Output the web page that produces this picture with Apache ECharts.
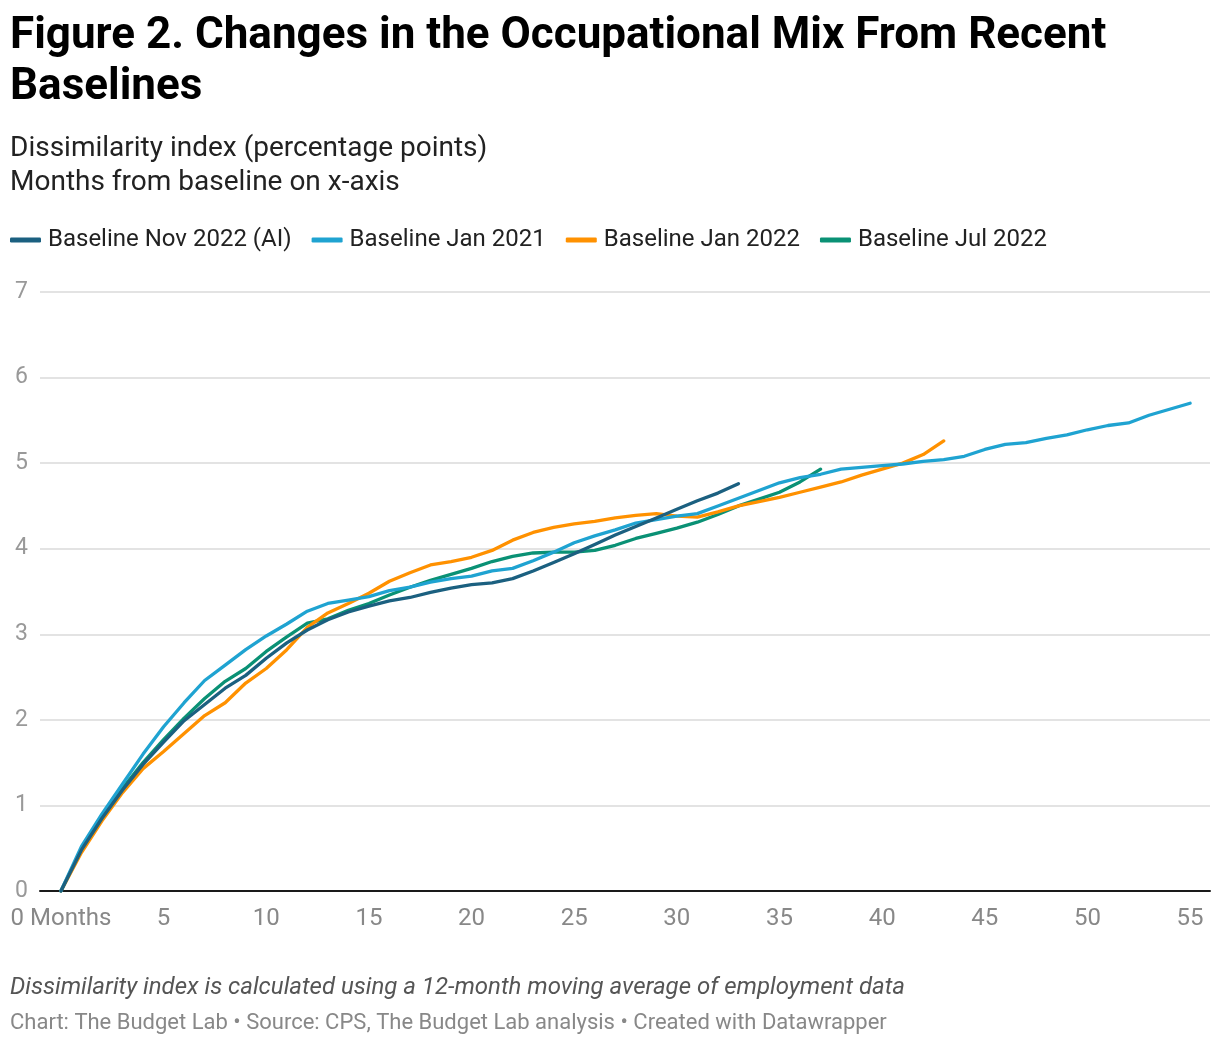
<!DOCTYPE html>
<html>
<head>
<meta charset="utf-8">
<script src="https://cdn.jsdelivr.net/npm/echarts@6/dist/echarts.min.js"></script>
<style>
html,body{margin:0;padding:0;background:#fff;}
#chart{width:1220px;height:1046px;}
</style>
</head>
<body>
<div id="chart"></div>
<script>
const titleText = 'Figure 2. Changes in the Occupational Mix From Recent Baselines';
const subtitleLines = ['Dissimilarity index (percentage points)', 'Months from baseline on x-axis'];
const noteText = 'Dissimilarity index is calculated using a 12-month moving average of employment data';
const sourceText = 'Chart: The Budget Lab \u2022 Source: CPS, The Budget Lab analysis \u2022 Created with Datawrapper';

const seriesNames = ['Baseline Nov 2022 (AI)', 'Baseline Jan 2021', 'Baseline Jan 2022', 'Baseline Jul 2022'];
const seriesColors = ['#1b6080', '#1fa3d1', '#ff9100', '#0a9175'];

const xTicks = [0, 5, 10, 15, 20, 25, 30, 35, 40, 45, 50, 55];
const yTicks = [0, 1, 2, 3, 4, 5, 6, 7];

// values by month from baseline (month 0, 1, 2, ...)
const nov2022 = [0, 0.48, 0.85, 1.18, 1.48, 1.74, 1.99, 2.18, 2.37, 2.52, 2.72, 2.9, 3.05, 3.17, 3.26, 3.33, 3.39, 3.43, 3.49, 3.54, 3.58, 3.6, 3.65, 3.74, 3.84, 3.94, 4.05, 4.16, 4.26, 4.36, 4.46, 4.56, 4.65, 4.76];
const jan2021 = [0, 0.52, 0.9, 1.25, 1.6, 1.92, 2.2, 2.46, 2.64, 2.82, 2.98, 3.12, 3.27, 3.36, 3.4, 3.44, 3.51, 3.55, 3.61, 3.65, 3.68, 3.74, 3.77, 3.86, 3.96, 4.07, 4.15, 4.22, 4.3, 4.34, 4.38, 4.41, 4.5, 4.59, 4.68, 4.77, 4.83, 4.87, 4.93, 4.95, 4.97, 4.99, 5.02, 5.04, 5.08, 5.16, 5.22, 5.24, 5.29, 5.33, 5.39, 5.44, 5.47, 5.56, 5.63, 5.7];
const jan2022 = [0, 0.45, 0.82, 1.15, 1.43, 1.63, 1.84, 2.05, 2.2, 2.43, 2.6, 2.82, 3.08, 3.25, 3.36, 3.48, 3.62, 3.72, 3.81, 3.85, 3.9, 3.98, 4.1, 4.19, 4.25, 4.29, 4.32, 4.36, 4.39, 4.41, 4.38, 4.37, 4.43, 4.5, 4.55, 4.6, 4.66, 4.72, 4.78, 4.86, 4.93, 5.0, 5.1, 5.26];
const jul2022 = [0, 0.48, 0.86, 1.2, 1.5, 1.77, 2.02, 2.25, 2.45, 2.6, 2.8, 2.97, 3.13, 3.18, 3.28, 3.36, 3.46, 3.55, 3.63, 3.7, 3.77, 3.85, 3.91, 3.95, 3.96, 3.96, 3.98, 4.04, 4.12, 4.18, 4.24, 4.31, 4.4, 4.5, 4.58, 4.66, 4.78, 4.93];

const allValues = [nov2022, jan2021, jan2022, jul2022];

const chart = echarts.init(document.getElementById('chart'), null, {renderer: 'canvas'});
const FONT = 'Roboto';

const series = allValues.map((vals, i) => ({
  name: seriesNames[i],
  type: 'line',
  data: vals.map((v, m) => [m, v]),
  showSymbol: false,
  symbol: 'none',
  lineStyle: {width: 3.3, color: seriesColors[i], cap: 'round', join: 'round'},
  itemStyle: {color: seriesColors[i]},
  z: 10 - i,
  emphasis: {disabled: true}
}));

chart.setOption({
  animation: false,
  backgroundColor: '#fff',
  title: [
    {
      text: titleText,
      left: 10, top: 11, padding: 0,
      textStyle: {fontFamily: FONT, fontWeight: 'bold', fontSize: 44, color: '#000', width: 1195, overflow: 'break', lineHeight: 51}
    },
    {
      text: subtitleLines.join('\n'),
      left: 10, top: 132, padding: 0,
      textStyle: {fontFamily: FONT, fontWeight: 'normal', fontSize: 28, color: '#222', lineHeight: 34}
    },
    {
      text: noteText,
      left: 10, top: 976, padding: 0,
      textStyle: {fontFamily: FONT, fontWeight: 'normal', fontStyle: 'italic', fontSize: 24, color: '#555'}
    },
    {
      text: sourceText,
      left: 10, top: 1012, padding: 0,
      textStyle: {fontFamily: FONT, fontWeight: 'normal', fontSize: 22, color: '#888'}
    }
  ],
  legend: {
    left: 10, top: 228, padding: 0,
    icon: 'roundRect',
    itemWidth: 31, itemHeight: 5,
    itemGap: 20,
    textStyle: {fontFamily: FONT, fontSize: 24, color: '#222', padding: [0, 0, 0, 2]},
    data: seriesNames
  },
  grid: {left: 40, right: 10, top: 292, bottom: 155, containLabel: false},
  xAxis: {
    type: 'value',
    min: -1.02, max: 55.97,
    axisLine: {show: true, onZero: false, lineStyle: {color: '#1a1a1a', width: 2}},
    axisTick: {show: false},
    splitLine: {show: false},
    axisLabel: {
      customValues: xTicks,
      fontFamily: FONT, fontSize: 24, color: '#888', margin: 16,
      formatter: v => v === 0 ? '0 Months' : String(v)
    }
  },
  yAxis: {
    type: 'value',
    min: 0, max: 7, interval: 1,
    axisLine: {show: false},
    axisTick: {show: false},
    splitLine: {show: true, lineStyle: {color: '#e3e3e3', width: 2}},
    axisLabel: {fontFamily: FONT, fontSize: 23, color: '#999', margin: 12, verticalAlign: 'middle',
      formatter: v => yTicks.includes(v) ? String(v) : ''}
  },
  series: series
});
</script>
</body>
</html>
